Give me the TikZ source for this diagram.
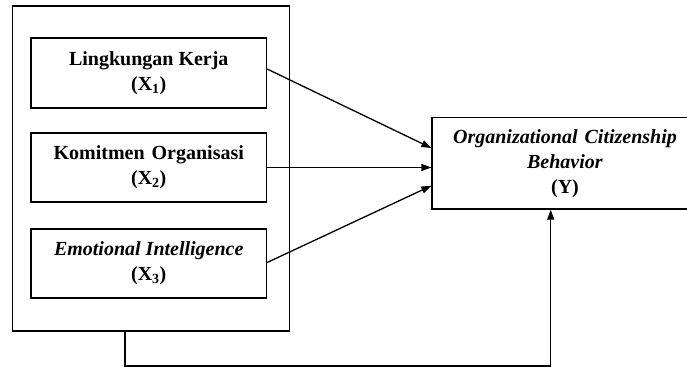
\documentclass[tikz,border=0pt]{standalone}
\usepackage{fontspec}
\setmainfont{Liberation Serif}
\usetikzlibrary{arrows.meta,calc}
\begin{document}
\begin{tikzpicture}[x=1pt,y=-1pt,
  line width=1.3pt,
  varbox/.style={draw, rectangle, align=center, inner sep=0pt,
    font=\fontsize{20}{25}\selectfont\bfseries},
  arr/.style={-{Triangle[length=10pt,width=7pt]}}]
\useasboundingbox (0,0) rectangle (687,367);
\node[draw, rectangle, minimum width=276.6pt, minimum height=325pt, inner sep=0pt] (outer) at (151,168.5) {};
\node[varbox, minimum width=235.5pt, minimum height=70pt] (b1) at (148.75,73) {Lingkungan Kerja\\(X\textsubscript{1})};
\node[varbox, minimum width=235.5pt, minimum height=69pt] (b2) at (148.75,167.5) {Komitmen\hspace{2pt} Organisasi\\(X\textsubscript{2})};
\node[varbox, minimum width=235.5pt, minimum height=69pt] (b3) at (148.75,263.5) {\textit{Emotional Intelligence}\\(X\textsubscript{3})};
\node[draw, rectangle, minimum width=280pt, minimum height=91.3pt, inner sep=0pt] (y) at (572,163.4) {};
\node[font=\fontsize{20}{25}\selectfont\bfseries, align=center, inner sep=0pt] (ytext) at (565,163.4) {\textit{Organizational\hspace{2pt} Citizenship}\\\textit{Behavior}\\(Y)};
\draw[arr] ($(b1.east)+(0,-4)$) -- ($(y.west)+(0,-15.4)$);
\draw[arr] (b2.east) -- (b2.east -| y.west);
\draw[arr] ($(b3.east)+(0,-1)$) -- ($(y.west)+(0,22.3)$);
\coordinate (p1) at (125,366);
\coordinate (p2) at (550.7,366);
\draw[arr] (outer.south -| p1) -- (p1) -- (p2) -- (y.south -| p2);
\end{tikzpicture}
\end{document}
